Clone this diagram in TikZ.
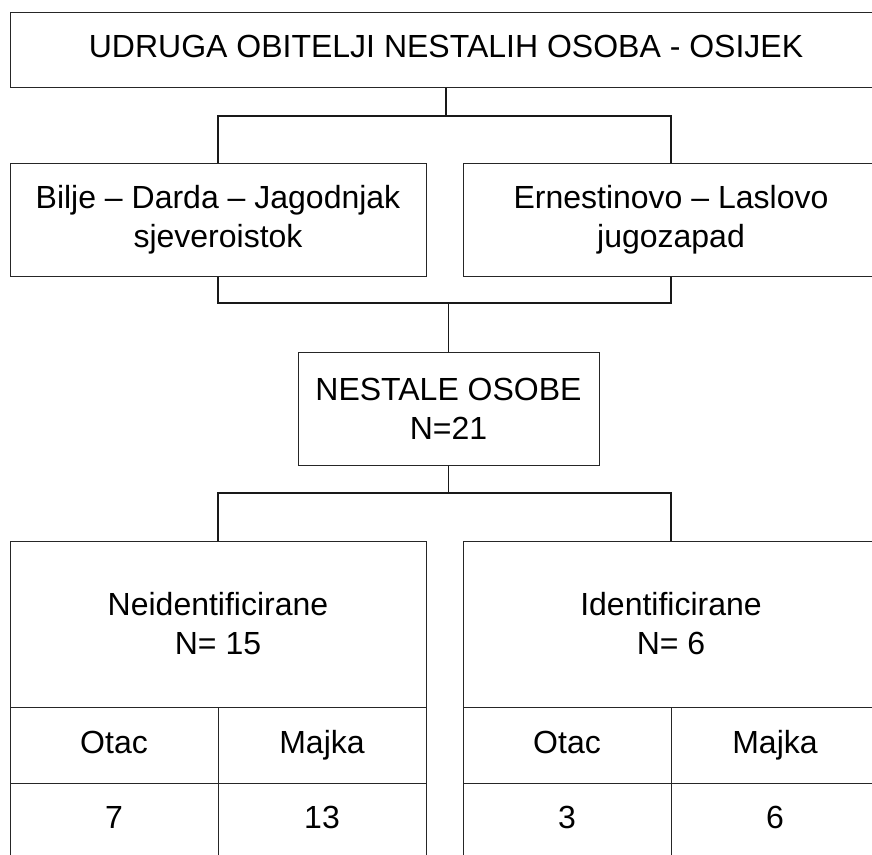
\documentclass[tikz,border=0pt]{standalone}
\usepackage{fontspec}
\setmainfont{Liberation Sans}

\tikzset{
  caixa/.style={draw=black!85, line width=1pt, align=center, inner sep=0pt,
    font=\fontsize{32}{39}\selectfont},
  celula/.style={caixa, minimum width=208pt, minimum height=76pt,
    text height=23pt, text depth=7pt},
  ligacao/.style={draw=black!90, line width=1.2pt}
}

\begin{document}
\begin{tikzpicture}[x=1pt,y=-1pt]
		\useasboundingbox (0,0) rectangle (872,854);
		
		% Caixa do topo
		\node[caixa, minimum width=872pt, minimum height=75pt, text depth=6pt] (udruga) at (446,49.5) {UDRUGA OBITELJI NESTALIH OSOBA - OSIJEK};
		
		% Regioes
		\node[caixa, minimum width=416pt, minimum height=113pt] (sjever) at (218,219.5) {Bilje – Darda – Jagodnjak\\sjeveroistok};
		\node[caixa, minimum width=416pt, minimum height=113pt] (jug) at (671,219.5) {Ernestinovo – Laslovo\\jugozapad};
		
		% Caixa central
		\node[caixa, minimum width=301pt, minimum height=113pt] (nestale) at (448.5,408.5) {NESTALE OSOBE\\N=21};
		
		% Grupos de baixo
		\node[caixa, minimum width=416pt, minimum height=166pt] (neid) at (218,624) {Neidentificirane\\N= 15};
		\node[caixa, minimum width=416pt, minimum height=166pt] (ident) at (671,624) {Identificirane\\N= 6};
		
		% Tabelas
		\node[celula] (neidOtac) at (114,745) {Otac};
		\node[celula] (neidMajka) at (322,745) {Majka};
		\node[celula, minimum height=74pt] (neidO) at (114,820) {7};
		\node[celula, minimum height=74pt] (neidM) at (322,820) {13};
		\node[celula] (identOtac) at (567,745) {Otac};
		\node[celula] (identMajka) at (775,745) {Majka};
		\node[celula, minimum height=74pt] (identO) at (567,820) {3};
		\node[celula, minimum height=74pt] (identM) at (775,820) {6};
		
		% Pontos de juncao
		\coordinate (j1) at (446,116);
		\coordinate (j2) at (448.5,303);
		\coordinate (j3) at (448.5,493);
		
		% Ligacoes
		\draw[ligacao] (udruga.south) -- (j1);
		\draw[ligacao] (sjever.north) |- (j1) -| (jug.north);
		\draw[ligacao] (sjever.south) |- (j2) -| (jug.south);
		\draw[ligacao] (j2) -- (nestale.north);
		\draw[ligacao] (nestale.south) -- (j3);
		\draw[ligacao] (neid.north) |- (j3) -| (ident.north);
		
\end{tikzpicture}
\end{document}
